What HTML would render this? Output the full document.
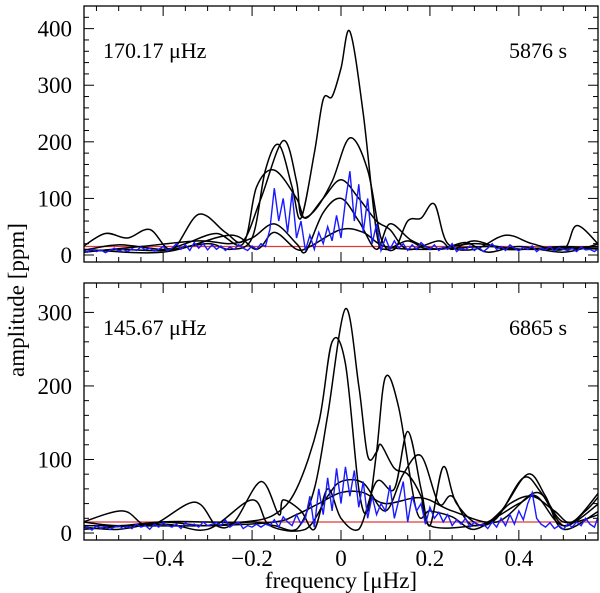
<!DOCTYPE html>
<html><head><meta charset="utf-8"><style>
html,body{margin:0;padding:0;background:#fff;}
svg{display:block;font-family:"Liberation Serif","DejaVu Serif",serif;}
</style></head><body>
<svg id="chart" width="600" height="593" viewBox="0 0 600 593"></svg>
<script>
// ---- data ----
const xDomain = [-0.578, 0.578];
const topYTicks = [0, 100, 200, 300, 400];
const botYTicks = [0, 100, 200, 300];
const xTicks = [-0.4, -0.2, 0, 0.2, 0.4];
const xTickLabels = ["\u22120.4", "\u22120.2", "0", "0.2", "0.4"];
const noiseLevelTop = 15;
const noiseLevelBot = 15;
const topLabels = ["170.17 \u03bcHz", "5876 s"];
const botLabels = ["145.67 \u03bcHz", "6865 s"];

const topA = [[-0.58,5],[-0.5,10],[-0.4,8],[-0.3,20],[-0.25,10],[-0.2,30],[-0.17,150],[-0.14,195],[-0.11,120],[-0.09,65],[-0.06,180],[-0.04,275],[-0.02,280],[0.0,330],[0.02,395],[0.05,250],[0.08,40],[0.1,10],[0.15,25],[0.2,10],[0.3,20],[0.4,10],[0.5,15],[0.58,10]];
const topB = [[-0.58,15],[-0.53,38],[-0.48,30],[-0.43,45],[-0.38,10],[-0.32,72],[-0.26,40],[-0.22,25],[-0.18,100],[-0.13,202],[-0.1,130],[-0.09,70],[-0.06,78],[-0.02,130],[0.02,207],[0.06,150],[0.09,30],[0.12,10],[0.15,60],[0.18,65],[0.21,90],[0.24,20],[0.3,10],[0.37,35],[0.43,20],[0.5,10],[0.53,52],[0.58,18]];
const topC = [[-0.58,8],[-0.5,18],[-0.4,10],[-0.35,20],[-0.28,38],[-0.22,20],[-0.19,120],[-0.15,150],[-0.1,100],[-0.08,65],[-0.04,100],[0.0,133],[0.04,100],[0.08,60],[0.11,45],[0.15,10],[0.22,25],[0.25,10],[0.3,25],[0.37,10],[0.45,12],[0.58,15]];
const topD = [[-0.58,5],[-0.45,15],[-0.32,25],[-0.25,20],[-0.2,30],[-0.15,55],[-0.1,20],[-0.08,5],[-0.04,75],[0.0,100],[0.04,60],[0.08,10],[0.11,55],[0.16,25],[0.22,10],[0.28,22],[0.33,5],[0.4,15],[0.5,5],[0.58,20]];
const topE = [[-0.58,10],[-0.4,5],[-0.25,35],[-0.19,10],[-0.15,40],[-0.1,10],[-0.07,15],[0,45],[0.05,40],[0.1,15],[0.2,10],[0.33,15],[0.42,10],[0.58,12]];
const topBlue = [8,5,10,6,9,4,8,12,7,10, 6,11,8,14,9,12,7,10,15,8, 12,20,10,18,8,22,12,20,9,18, 10,16,8,14,10,18,12,8,16,10, 20,15,45,118,60,100,40,110,30,60, 8,35,10,40,20,50,25,70,30,95, 148,60,125,40,100,20,55,8,30,10, 25,12,20,8,18,10,22,15,10,18, 8,14,10,20,6,12,9,16,8,14, 6,12,20,10,15,8,18,12,7,14, 10,16,6,12,9,15,7,13,10,8, 12,6,14,9,10,6,12];

const botA = [[-0.58,15],[-0.5,10],[-0.4,15],[-0.3,10],[-0.2,15],[-0.15,10],[-0.1,5],[-0.06,60],[-0.03,160],[0.01,305],[0.04,200],[0.06,105],[0.08,110],[0.09,120],[0.12,88],[0.15,80],[0.18,50],[0.2,10],[0.3,10],[0.35,20],[0.41,75],[0.45,55],[0.5,10],[0.55,30],[0.58,50]];
const botB = [[-0.58,8],[-0.5,5],[-0.4,15],[-0.3,15],[-0.22,15],[-0.15,25],[-0.1,60],[-0.05,150],[-0.02,260],[0.01,230],[0.04,60],[0.06,30],[0.08,110],[0.1,212],[0.13,170],[0.17,30],[0.2,30],[0.25,22],[0.3,5],[0.36,30],[0.42,80],[0.46,50],[0.5,5],[0.58,30]];
const botC = [[-0.58,15],[-0.49,30],[-0.43,10],[-0.33,42],[-0.28,10],[-0.24,15],[-0.18,70],[-0.14,25],[-0.13,45],[-0.09,30],[-0.06,5],[-0.03,60],[0.0,20],[0.04,5],[0.08,70],[0.12,60],[0.15,138],[0.18,60],[0.2,10],[0.23,90],[0.26,40],[0.32,10],[0.38,40],[0.43,50],[0.48,30],[0.52,15],[0.58,55]];
const botD = [[-0.58,5],[-0.4,12],[-0.3,5],[-0.2,45],[-0.16,10],[-0.08,5],[-0.03,50],[0,70],[0.05,68],[0.1,30],[0.14,80],[0.18,105],[0.22,40],[0.25,50],[0.3,10],[0.4,40],[0.44,50],[0.5,10],[0.58,40]];
const botE = [[-0.58,10],[-0.3,10],[-0.15,15],[-0.1,25],[-0.05,40],[0.0,55],[0.05,55],[0.1,40],[0.18,48],[0.25,30],[0.35,15],[0.44,55],[0.5,15],[0.58,25]];
const botBlue = [5,8,4,10,6,9,5,8,10,6, 9,6,12,8,10,5,12,8,14,10, 8,12,6,14,10,12,8,15,10,12, 14,10,18,8,12,15,6,10,8,12, 8,12,10,18,8,22,15,10,25,12, 20,50,8,60,25,75,30,88,40,90, 50,85,35,70,20,50,25,40,30,65, 20,45,70,15,50,30,40,12,35,20, 28,15,25,10,18,12,20,8,15,10, 12,6,15,8,20,10,25,12,30,18, 40,55,20,12,8,14,6,10,5,12, 8,15,10,20,12,8,25];
const blueStartX = -0.58, blueStep = 0.01;

// ---- drawing ----
const NS = "http://www.w3.org/2000/svg";
const svg = document.getElementById('chart');
function mk(tag, attrs, parent){ const e=document.createElementNS(NS,tag); for(const k in attrs) e.setAttribute(k,attrs[k]); (parent||svg).appendChild(e); return e; }
const L=84, R=598;
function xs(v){ return L + (v - xDomain[0])/(xDomain[1]-xDomain[0])*(R-L); }

function panel(name, top, bottom, yMax, yTicks, blacks, blue, noise, labels, labelY, showX){
  const g = mk('g',{});
  
  
  const ys = v => bottom - 7 - v/yMax*(bottom - 7 - top);
  const clipId = name+'-clip';
  const cp = mk('clipPath',{id:clipId},g); mk('rect',{x:L,y:top,width:R-L,height:bottom-top},cp);
  const plot = mk('g',{'clip-path':`url(#${clipId})`},g);
  const nl = mk('line',{x1:L,x2:R,y1:ys(noise),y2:ys(noise),stroke:'#e03a3a','stroke-width':1.3},plot);
  
  
  blacks.forEach((pts,i)=>{
    const P = pts.map(p=>[xs(p[0]), ys(p[1])]);
    let d = `M${P[0][0]},${P[0][1]}`;
    for(let k=0;k<P.length-1;k++){
      const p0=P[Math.max(k-1,0)], p1=P[k], p2=P[k+1], p3=P[Math.min(k+2,P.length-1)];
      const c1=[p1[0]+(p2[0]-p0[0])/6, p1[1]+(p2[1]-p0[1])/6];
      const c2=[p2[0]-(p3[0]-p1[0])/6, p2[1]-(p3[1]-p1[1])/6];
      d += ` C${c1[0]},${Math.min(c1[1],ys(0))} ${c2[0]},${Math.min(c2[1],ys(0))} ${p2[0]},${p2[1]}`;
    }
    const path = mk('path',{d:d,fill:'none',stroke:'#000','stroke-width':1.5},plot);
    
    
  });
  const bd = blue.map((v,i)=>(i?'L':'M')+xs(blueStartX+i*blueStep)+','+ys(v)).join(' ');
  const bp = mk('path',{d:bd,fill:'none',stroke:'#1a1aff','stroke-width':1.4},plot);
  
  
  mk('rect',{x:L,y:top,width:R-L,height:bottom-top,fill:'none',stroke:'#000','stroke-width':1.3},g);
  for(let v=0; v<=yMax; v+=20){
    const major = v%100===0, len = major?10:5;
    mk('line',{x1:L,x2:L+len,y1:ys(v),y2:ys(v),stroke:'#000','stroke-width':1},g);
    mk('line',{x1:R-len,x2:R,y1:ys(v),y2:ys(v),stroke:'#000','stroke-width':1},g);
  }
  yTicks.forEach(v=>{
    const t = mk('text',{x:L-12,y:ys(v)+8,'text-anchor':'end','font-size':23},g);
    t.textContent = v;
    
    
  });
  for(let k=-11;k<=11;k++){
    const v=k*0.05; if(xs(v)<L||xs(v)>R) continue;
    const major = k%4===0, len = major?10:5;
    mk('line',{x1:xs(v),x2:xs(v),y1:bottom,y2:bottom-len,stroke:'#000','stroke-width':1},g);
    mk('line',{x1:xs(v),x2:xs(v),y1:top,y2:top+len,stroke:'#000','stroke-width':1},g);
  }
  if(showX){
    xTicks.forEach((v,i)=>{
      const t = mk('text',{x:xs(v),y:bottom+26,'text-anchor':'middle','font-size':23},g);
      t.textContent = xTickLabels[i];
      
      
    });
  }
  const a = mk('text',{x:103,y:labelY,'font-size':22},g); a.textContent = labels[0];
  
  
  const b = mk('text',{x:567,y:labelY,'text-anchor':'end','font-size':22},g); b.textContent = labels[1];
  
  
}
panel('top-panel', 6, 262, 440, topYTicks, [topA,topB,topC,topD,topE], topBlue, noiseLevelTop, topLabels, 58, false);
panel('bottom-panel', 283, 540, 340, botYTicks, [botA,botB,botC,botD,botE], botBlue, noiseLevelBot, botLabels, 335, true);

const xt = mk('text',{x:341,y:588,'text-anchor':'middle','font-size':23});
xt.textContent = 'frequency [\u03bcHz]';


const yt = mk('text',{x:0,y:0,'text-anchor':'middle','font-size':23,transform:'translate(24,300) rotate(-90)'});
yt.textContent = 'amplitude [ppm]';


</script>
</body></html>
